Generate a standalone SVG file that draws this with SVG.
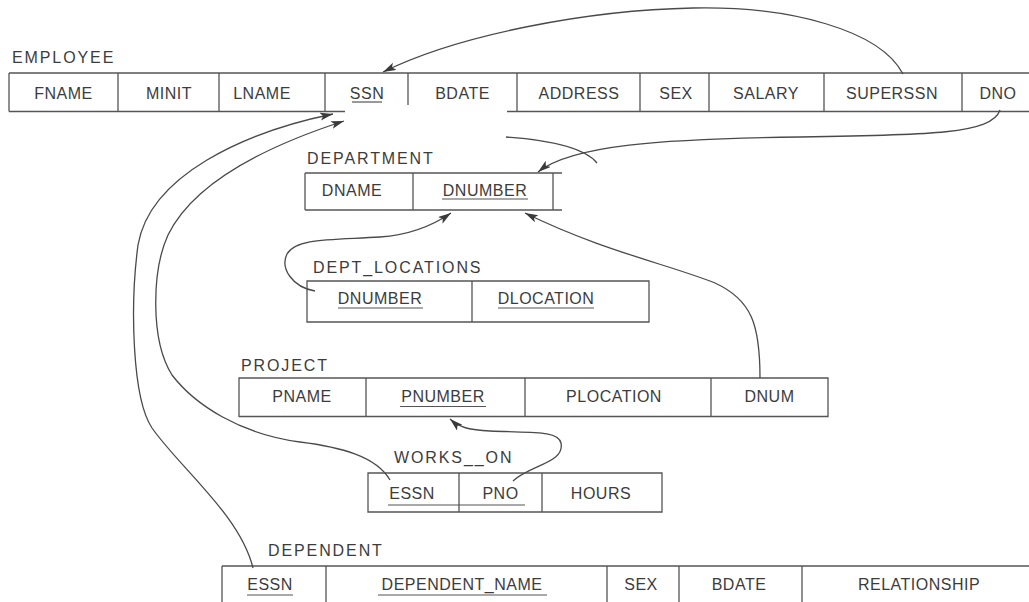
<svg xmlns="http://www.w3.org/2000/svg" width="1029" height="602" viewBox="0 0 1029 602">
<style>
.bg{fill:#ffffff}
.ln{stroke:#555;stroke-width:1.3;fill:none}
.ul{stroke:#555;stroke-width:1.2;fill:none}
.lbl{font-family:"Liberation Sans",Arial,sans-serif;font-size:16px;fill:#3c3c3c;letter-spacing:1.9px}
.cell{font-family:"Liberation Sans",Arial,sans-serif;font-size:16px;fill:#3c3c3c;letter-spacing:0.5px;text-anchor:middle}
.con{stroke:#4a4a4a;stroke-width:1.3;fill:none}
</style>
<defs>
<marker id="arr" markerUnits="userSpaceOnUse" markerWidth="14" markerHeight="10" refX="13" refY="4" orient="auto">
<path d="M0,0 L13,4 L0,8 L3,4 Z" fill="#3a3a3a"/>
</marker>
</defs>
<rect class="bg" x="0" y="0" width="1029" height="602"/>

<g id="employee">
<text class="lbl" x="12" y="63">EMPLOYEE</text>
<path class="ln" d="M9,73 H1029 M9,111.5 H345 M507,111.5 H1029 M9,73 V111.5 M118,73 V111.5 M219,73 V111.5 M325,73 V111.5 M408,73 V105 M517,73 V111.5 M640,73 V111.5 M709,73 V111.5 M824,73 V111.5 M962,73 V111.5"/>
<text class="cell" x="63.5" y="99">FNAME</text>
<text class="cell" x="169" y="99">MINIT</text>
<text class="cell" x="262" y="99">LNAME</text>
<text class="cell" x="367" y="99">SSN</text>
<path class="ul" d="M352,102 H382"/>
<text class="cell" x="462.5" y="99">BDATE</text>
<text class="cell" x="579" y="99">ADDRESS</text>
<text class="cell" x="676" y="99">SEX</text>
<text class="cell" x="766" y="99">SALARY</text>
<text class="cell" x="892" y="99">SUPERSSN</text>
<text class="cell" x="998" y="99">DNO</text>
</g>

<g id="department">
<text class="lbl" x="307" y="164">DEPARTMENT</text>
<path class="ln" d="M305,173 H562 M305,210 H562 M305,173 V210 M413,173 V210 M553,173 V210"/>
<text class="cell" x="352" y="196">DNAME</text>
<text class="cell" x="485" y="196">DNUMBER</text>
<path class="ul" d="M442,199 H528"/>
</g>

<g id="dept_locations">
<text class="lbl" x="313" y="273">DEPT_LOCATIONS</text>
<path class="ln" d="M307,281 H649 V322 H307 Z M472,281 V322"/>
<text class="cell" x="380" y="304">DNUMBER</text>
<path class="ul" d="M338,308 H423"/>
<text class="cell" x="546" y="304">DLOCATION</text>
<path class="ul" d="M498,308 H594"/>
</g>

<g id="project">
<text class="lbl" x="241" y="371">PROJECT</text>
<path class="ln" d="M239,378 H828 V416.5 H239 Z M366,378 V416.5 M525,378 V416.5 M711,378 V416.5"/>
<text class="cell" x="302" y="402">PNAME</text>
<text class="cell" x="443" y="402">PNUMBER</text>
<path class="ul" d="M400,406.5 H486"/>
<text class="cell" x="614" y="402">PLOCATION</text>
<text class="cell" x="769.5" y="402">DNUM</text>
</g>

<g id="works_on">
<text class="lbl" x="394" y="463">WORKS__ON</text>
<path class="ln" d="M368,473 H662 V512 H368 Z M459,473 V512 M542,473 V512"/>
<text class="cell" x="412" y="499">ESSN</text>
<text class="cell" x="500.5" y="499">PNO</text>
<path class="ul" d="M388,505 H525"/>
<text class="cell" x="601" y="499">HOURS</text>
</g>

<g id="dependent">
<text class="lbl" x="268" y="556">DEPENDENT</text>
<path class="ln" d="M222,566 H1029 M222,566 V602 M326,566 V602 M607,566 V602 M679,566 V602 M802,566 V602"/>
<text class="cell" x="270" y="590">ESSN</text>
<path class="ul" d="M247,595 H293"/>
<text class="cell" x="462" y="590">DEPENDENT_NAME</text>
<path class="ul" d="M378,595 H547"/>
<text class="cell" x="641" y="590">SEX</text>
<text class="cell" x="739" y="590">BDATE</text>
<text class="cell" x="919" y="590">RELATIONSHIP</text>
</g>

<g id="connectors">
<path class="con" marker-end="url(#arr)" d="M903,74 C880,30 790,6 693,8 C590,10 460,34 383,72"/>
<path class="con" marker-end="url(#arr)" d="M1000,110 C992,134 930,135 800,137 C660,139 572,145 538,172"/>
<path class="con" d="M506,137 C548,140 585,148 597,163"/>
<path class="con" marker-end="url(#arr)" d="M315,291 C292,287 280,268 287,254 C296,238 330,240 380,237 C410,235 432,226 451,213"/>
<path class="con" marker-end="url(#arr)" d="M760,378 C760,325 752,300 715,283 C670,265 600,250 525,213"/>
<path class="con" marker-end="url(#arr)" d="M513,481 C530,465 565,463 561,443 C558,430 530,433 490,431 C470,430 460,428 450,419"/>
<path class="con" marker-end="url(#arr)" d="M390,480 C376,456 340,447 300,442 C240,434 195,405 172,375 C150,340 152,270 168,235 C195,180 270,145 344,121"/>
<path class="con" marker-end="url(#arr)" d="M253,568 C240,515 180,468 152,428 C132,398 130,305 138,245 C150,175 245,132 333,114"/>
</g>
</svg>
